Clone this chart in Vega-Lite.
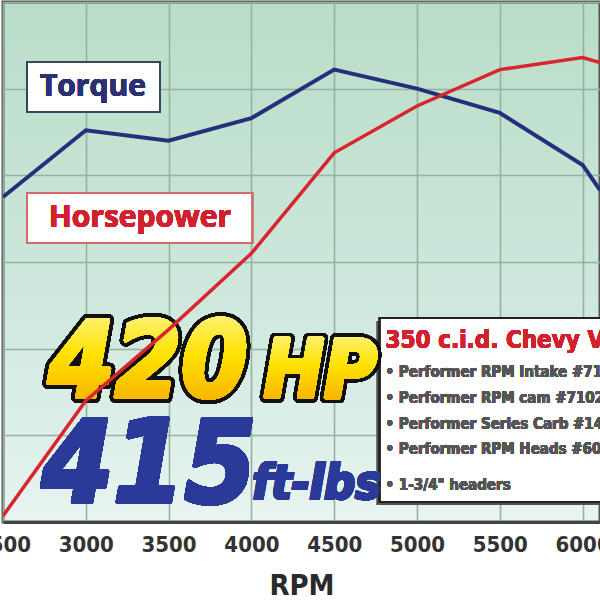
{
  "$schema": "https://vega.github.io/schema/vega-lite/v6.json",
  "width": 597,
  "height": 520,
  "autosize": "none",
  "padding": {"left": 3, "top": 2, "right": 0, "bottom": 78},
  "background": "white",
  "view": {
    "fill": {"gradient": "linear", "x1": 0, "y1": 0, "x2": 0, "y2": 1,
      "stops": [{"offset": 0, "color": "#b9ddc7"}, {"offset": 0.55, "color": "#cde7dc"}, {"offset": 1, "color": "#e8f4f1"}]},
    "stroke": "#555",
    "strokeWidth": 3
  },
  "data": {
    "values": [
      {"rpm": 2500, "series": "Torque", "value": 337.5},
      {"rpm": 3000, "series": "Torque", "value": 376},
      {"rpm": 3500, "series": "Torque", "value": 370},
      {"rpm": 4000, "series": "Torque", "value": 383},
      {"rpm": 4500, "series": "Torque", "value": 411},
      {"rpm": 5000, "series": "Torque", "value": 400},
      {"rpm": 5500, "series": "Torque", "value": 386},
      {"rpm": 6000, "series": "Torque", "value": 356},
      {"rpm": 6105, "series": "Torque", "value": 341.5},
      {"rpm": 2500, "series": "Horsepower", "value": 153.5},
      {"rpm": 3000, "series": "Horsepower", "value": 220},
      {"rpm": 3500, "series": "Horsepower", "value": 261},
      {"rpm": 4000, "series": "Horsepower", "value": 305},
      {"rpm": 4500, "series": "Horsepower", "value": 363},
      {"rpm": 5000, "series": "Horsepower", "value": 390},
      {"rpm": 5500, "series": "Horsepower", "value": 411},
      {"rpm": 6000, "series": "Horsepower", "value": 418},
      {"rpm": 6105, "series": "Horsepower", "value": 415}
    ]
  },
  "layer": [
    {
      "mark": {"type": "line", "strokeWidth": 4, "clip": true},
      "transform": [{"filter": "datum.series === 'Torque'"}],
      "encoding": {
        "x": {"field": "rpm", "type": "quantitative",
          "scale": {"domain": [2500, 6105], "nice": false, "zero": false},
          "axis": {"values": [2500, 3000, 3500, 4000, 4500, 5000, 5500, 6000], "format": "d",
            "title": "RPM", "titleFont": "DejaVu Sans Condensed", "titleFontSize": 29, "titleFontWeight": "bold", "titleColor": "#2a2a2a", "titlePadding": 16,
            "labelFont": "DejaVu Sans Condensed", "labelFontSize": 22, "labelFontWeight": "bold", "labelColor": "#333",
            "labelPadding": 12, "ticks": false, "domainColor": "#444", "domainWidth": 3,
            "grid": true, "gridColor": "#93b3a1", "gridWidth": 1.6, "labelOverlap": false, "labelBound": false, "labelFlush": false}},
        "y": {"field": "value", "type": "quantitative",
          "scale": {"domain": [150, 450], "nice": false, "zero": false},
          "axis": {"values": [150, 200, 250, 300, 350, 400, 450], "labels": false, "ticks": false, "domain": false, "title": null,
            "grid": true, "gridColor": "#93b3a1", "gridWidth": 1.6}},
        "color": {"field": "series", "type": "nominal",
          "scale": {"domain": ["Torque", "Horsepower"], "range": ["#25307a", "#d9262e"]}, "legend": null}
      }
    },
    {
      "mark": {"type": "rect", "fill": "white", "stroke": "#3a4660", "strokeWidth": 2},
      "encoding": {"x": {"datum": 2645, "type": "quantitative"}, "x2": {"datum": 3448}, "y": {"datum": 415.4, "type": "quantitative"}, "y2": {"datum": 386.5}}
    },
    {
      "mark": {"type": "text", "font": "Open Sans", "fontWeight": "bold", "fontSize": 30, "color": "#2a3272", "align": "center", "baseline": "middle"},
      "encoding": {"x": {"datum": 3043, "type": "quantitative"}, "y": {"datum": 401, "type": "quantitative"}, "text": {"value": "Torque"}}
    },
    {
      "mark": {"type": "rect", "fill": "white", "stroke": "#d46a6a", "strokeWidth": 2},
      "encoding": {"x": {"datum": 2645, "type": "quantitative"}, "x2": {"datum": 4004}, "y": {"datum": 339.8, "type": "quantitative"}, "y2": {"datum": 311}}
    },
    {
      "mark": {"type": "text", "font": "Open Sans", "fontWeight": "bold", "fontSize": 30, "color": "#d2202e", "align": "center", "baseline": "middle"},
      "encoding": {"x": {"datum": 3327, "type": "quantitative"}, "y": {"datum": 325.4, "type": "quantitative"}, "text": {"value": "Horsepower"}}
    },
    {
      "mark": {"type": "rect", "fill": "#555", "clip": true},
      "encoding": {"x": {"datum": 4758, "type": "quantitative"}, "x2": {"datum": 6300}, "y": {"datum": 266, "type": "quantitative"}, "y2": {"datum": 159.8}}
    },
    {
      "mark": {"type": "rect", "fill": "white", "stroke": "#222", "strokeWidth": 2, "clip": true},
      "encoding": {"x": {"datum": 4776, "type": "quantitative"}, "x2": {"datum": 6300}, "y": {"datum": 267.7, "type": "quantitative"}, "y2": {"datum": 161.5}}
    },
    {
      "mark": {"type": "text", "font": "DejaVu Sans Condensed", "fontWeight": "bold", "fontSize": 24, "color": "#d2202e", "align": "left", "baseline": "middle"},
      "encoding": {"x": {"datum": 4810, "type": "quantitative"}, "y": {"datum": 254.4, "type": "quantitative"}, "text": {"value": "350 c.i.d. Chevy V8"}}
    },
    {
      "mark": {"type": "text", "font": "DejaVu Sans Condensed", "fontWeight": "bold", "fontSize": 15, "color": "#555", "align": "left", "baseline": "middle"},
      "encoding": {"x": {"datum": 4810, "type": "quantitative"}, "y": {"datum": 236.5, "type": "quantitative"}, "text": {"value": "• Performer RPM Intake #7117"}}
    },
    {
      "mark": {"type": "text", "font": "DejaVu Sans Condensed", "fontWeight": "bold", "fontSize": 15, "color": "#555", "align": "left", "baseline": "middle"},
      "encoding": {"x": {"datum": 4810, "type": "quantitative"}, "y": {"datum": 221.5, "type": "quantitative"}, "text": {"value": "• Performer RPM cam #7102"}}
    },
    {
      "mark": {"type": "text", "font": "DejaVu Sans Condensed", "fontWeight": "bold", "fontSize": 15, "color": "#555", "align": "left", "baseline": "middle"},
      "encoding": {"x": {"datum": 4810, "type": "quantitative"}, "y": {"datum": 206.5, "type": "quantitative"}, "text": {"value": "• Performer Series Carb #1406"}}
    },
    {
      "mark": {"type": "text", "font": "DejaVu Sans Condensed", "fontWeight": "bold", "fontSize": 15, "color": "#555", "align": "left", "baseline": "middle"},
      "encoding": {"x": {"datum": 4810, "type": "quantitative"}, "y": {"datum": 192.1, "type": "quantitative"}, "text": {"value": "• Performer RPM Heads #60xx"}}
    },
    {
      "mark": {"type": "text", "font": "DejaVu Sans Condensed", "fontWeight": "bold", "fontSize": 15, "color": "#555", "align": "left", "baseline": "middle"},
      "encoding": {"x": {"datum": 4810, "type": "quantitative"}, "y": {"datum": 171.4, "type": "quantitative"}, "text": {"value": "• 1-3/4\" headers"}}
    },
    {
      "mark": {"type": "text", "font": "DejaVu Sans Condensed", "fontWeight": "bold", "fontStyle": "italic", "fontSize": 106, "align": "left", "baseline": "alphabetic",
        "fill": "#111", "stroke": "#111", "strokeWidth": 12, "strokeJoin": "round"},
      "encoding": {"x": {"datum": 2775, "type": "quantitative"}, "y": {"datum": 222, "type": "quantitative"}, "text": {"value": "420"}}
    },
    {
      "mark": {"type": "text", "font": "DejaVu Sans Condensed", "fontWeight": "bold", "fontStyle": "italic", "fontSize": 106, "align": "left", "baseline": "alphabetic",
        "fill": {"gradient": "linear", "x1": 0, "y1": 0, "x2": 0, "y2": 1, "stops": [{"offset": 0, "color": "#fff7a0"}, {"offset": 0.45, "color": "#ffe200"}, {"offset": 1, "color": "#f5a000"}]},
        "stroke": {"gradient": "linear", "x1": 0, "y1": 0, "x2": 0, "y2": 1, "stops": [{"offset": 0, "color": "#fff7a0"}, {"offset": 0.45, "color": "#ffe200"}, {"offset": 1, "color": "#f5a000"}]},
        "strokeWidth": 4, "strokeJoin": "round"},
      "encoding": {"x": {"datum": 2775, "type": "quantitative"}, "y": {"datum": 222, "type": "quantitative"}, "text": {"value": "420"}}
    },
    {
      "mark": {"type": "text", "font": "DejaVu Sans Condensed", "fontWeight": "bold", "fontStyle": "italic", "fontSize": 80, "align": "left", "baseline": "alphabetic",
        "fill": "#111", "stroke": "#111", "strokeWidth": 11, "strokeJoin": "round"},
      "encoding": {"x": {"datum": 4075, "type": "quantitative"}, "y": {"datum": 222, "type": "quantitative"}, "text": {"value": "HP"}}
    },
    {
      "mark": {"type": "text", "font": "DejaVu Sans Condensed", "fontWeight": "bold", "fontStyle": "italic", "fontSize": 80, "align": "left", "baseline": "alphabetic",
        "fill": {"gradient": "linear", "x1": 0, "y1": 0, "x2": 0, "y2": 1, "stops": [{"offset": 0, "color": "#fff7a0"}, {"offset": 0.45, "color": "#ffe200"}, {"offset": 1, "color": "#f5a000"}]},
        "stroke": {"gradient": "linear", "x1": 0, "y1": 0, "x2": 0, "y2": 1, "stops": [{"offset": 0, "color": "#fff7a0"}, {"offset": 0.45, "color": "#ffe200"}, {"offset": 1, "color": "#f5a000"}]},
        "strokeWidth": 3.5, "strokeJoin": "round"},
      "encoding": {"x": {"datum": 4075, "type": "quantitative"}, "y": {"datum": 222, "type": "quantitative"}, "text": {"value": "HP"}}
    },
    {
      "mark": {"type": "text", "font": "DejaVu Sans Condensed", "fontWeight": "bold", "fontStyle": "italic", "fontSize": 114, "align": "left", "baseline": "alphabetic", "color": "#2b3a98",
        "stroke": "#2b3a98", "strokeWidth": 4, "strokeJoin": "round"},
      "encoding": {"x": {"datum": 2735, "type": "quantitative"}, "y": {"datum": 161.5, "type": "quantitative"}, "text": {"value": "415"}}
    },
    {
      "mark": {"type": "text", "font": "DejaVu Sans Condensed", "fontWeight": "bold", "fontStyle": "italic", "fontSize": 48, "align": "left", "baseline": "alphabetic", "color": "#2b3a98",
        "stroke": "#2b3a98", "strokeWidth": 2, "strokeJoin": "round"},
      "encoding": {"x": {"datum": 4005, "type": "quantitative"}, "y": {"datum": 163, "type": "quantitative"}, "text": {"value": "ft-lbs"}}
    },
    {
      "mark": {"type": "line", "strokeWidth": 3.5, "clip": true},
      "transform": [{"filter": "datum.series === 'Horsepower'"}],
      "encoding": {
        "x": {"field": "rpm", "type": "quantitative"},
        "y": {"field": "value", "type": "quantitative"},
        "color": {"field": "series", "type": "nominal"}
      }
    }
  ]
}
